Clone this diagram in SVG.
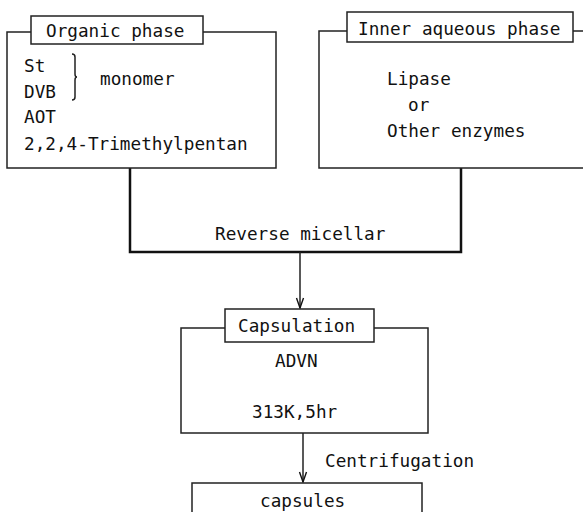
<svg xmlns="http://www.w3.org/2000/svg" width="583" height="512" viewBox="0 0 583 512">
<style>
text{font-family:"DejaVu Sans Mono","Liberation Mono",monospace;font-size:17.7px;fill:#111}
.box{fill:#fff;stroke:#222;stroke-width:1.5}
.thin{fill:none;stroke:#222;stroke-width:1.5}
.thick{fill:none;stroke:#111;stroke-width:2.5}
</style>
<defs>
<marker id="ah" markerWidth="12" markerHeight="10" refX="11" refY="5" orient="auto" markerUnits="userSpaceOnUse" viewBox="0 0 12 10">
<path d="M1,1.5 L11,5 L1,8.5" fill="none" stroke="#111" stroke-width="1.4"/>
</marker>
</defs>
<rect width="583" height="512" fill="#fff"/>
<g id="connectors">
<path class="thick" d="M130,168 V252 H461 V168"/>
<line class="thin" x1="300" y1="252" x2="300" y2="308" marker-end="url(#ah)"/>
<line class="thin" x1="303" y1="433" x2="303" y2="482" marker-end="url(#ah)"/>
<text x="215" y="240">Reverse micellar</text>
<text x="325" y="467">Centrifugation</text>
</g>
<g id="organic">
<rect class="box" x="7" y="32" width="269" height="136"/>
<rect class="box" x="31" y="16" width="172" height="28"/>
<text x="46" y="37">Organic phase</text>
<text x="24" y="72">St</text>
<text x="24" y="98">DVB</text>
<text x="24" y="123">AOT</text>
<text x="24" y="150">2,2,4-Trimethylpentan</text>
<path class="thin" d="M72,54 Q75,54 75,57 V74 Q75,77 77,77 Q75,77 75,80 V97 Q75,100 72,100" stroke-width="1.3"/>
<text x="100" y="85">monomer</text>
</g>
<g id="aqueous">
<rect class="box" x="319" y="31" width="280" height="137"/>
<rect class="box" x="347" y="12" width="226" height="30"/>
<text x="358" y="35">Inner aqueous phase</text>
<text x="387" y="85">Lipase</text>
<text x="408" y="111">or</text>
<text x="387" y="137">Other enzymes</text>
</g>
<g id="capsulation">
<rect class="box" x="181" y="328" width="247" height="105"/>
<rect class="box" x="225" y="309" width="149" height="33"/>
<text x="238" y="332">Capsulation</text>
<text x="275" y="367">ADVN</text>
<text x="252" y="418">313K,5hr</text>
</g>
<g id="capsules">
<rect class="box" x="192" y="483" width="230" height="40"/>
<text x="260" y="507">capsules</text>
</g>
</svg>
